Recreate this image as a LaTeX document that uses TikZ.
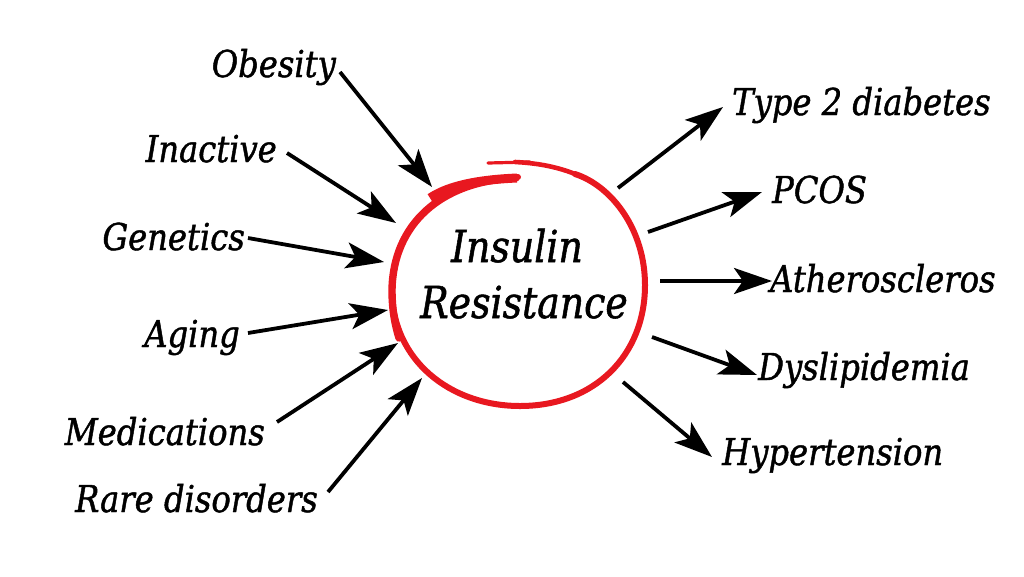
\documentclass[tikz,border=0pt]{standalone}
\usepackage{fontspec}
\usetikzlibrary{arrows.meta}
\newfontfamily\labfont{DejaVu Serif}[FakeStretch=0.87,FakeBold=1.2]
\newfontfamily\ctrfont{DejaVu Serif}[FakeStretch=0.86,FakeBold=1.2]
\definecolor{irred}{RGB}{232,24,32}
\tikzset{
  lab/.style={inner sep=0pt, font=\labfont\itshape\fontsize{37}{40}\selectfont},
  labL/.style={lab, anchor=base east},
  labR/.style={lab, anchor=base west},
  ctr/.style={inner sep=0pt, anchor=base, font=\ctrfont\itshape\fontsize{44}{50}\selectfont},
  arr/.style={line width=3.8pt, -{Stealth[length=38pt,width=26pt,inset=9pt]}},
  ring/.style={draw=irred, line cap=round, line join=round}
}
\begin{document}
\begin{tikzpicture}[x=1pt,y=-1pt]
\useasboundingbox (0,0) rectangle (1024,576);
\fill[white] (0,0) rectangle (1024,576);

% ring (hand-drawn spiral ellipse)
\draw[ring, line width=6pt] (518,177) .. controls (440,180) and (393,225) .. (392,290)
   .. controls (392,360) and (450,406) .. (520,406)
   .. controls (595,406) and (645,355) .. (645,285)
   .. controls (645,230) and (612,186) .. (575,174);
\draw[ring, line width=9pt, line cap=butt] (517,178) .. controls (470,180) and (445,188) .. (430,198);
\draw[ring, line width=7.4pt] (516,178) .. controls (440,181) and (393,225) .. (392,290)
   .. controls (392,310) and (395,325) .. (399,338);
\draw[ring, line width=4.6pt] (575,174) .. controls (555,166) and (535,163) .. (515,162);
\draw[ring, line width=3.2pt] (530,162) -- (488,163);

% centre text
\node[ctr] (ir1) at (517,262) {Insulin};
\node[ctr] (ir2) at (524,318) {Resistance};

% causes (left)
\node[labL] (ob) at (336,77)  {Obesity};
\node[labL] (in) at (277,162) {Inactive};
\node[labL] (ge) at (245,250) {Genetics};
\node[labL] (ag) at (240,347) {Aging};
\node[labL] (me) at (265,445) {Medications};
\node[labL] (ra) at (318,512) {Rare disorders};

% consequences (right)
\node[labR] (t2) at (732,115) {Type 2 diabetes};
\node[labR] (pc) at (772,203) {PCOS};
\node[labR] (at) at (770,292) {Atheroscleros};
\node[labR] (dy) at (758,380) {Dyslipidemia};
\node[labR] (hy) at (722,465) {Hypertension};

% arrow end points
\coordinate (obS) at (340,72);  \coordinate (obE) at (432,187);
\coordinate (inS) at (287,153); \coordinate (inE) at (396,223);
\coordinate (geS) at (248,238); \coordinate (geE) at (384,262);
\coordinate (agS) at (248,333); \coordinate (agE) at (388,310);
\coordinate (meS) at (277,422); \coordinate (meE) at (398,343);
\coordinate (raS) at (328,492); \coordinate (raE) at (422,378);
\coordinate (t2S) at (618,188); \coordinate (t2E) at (723,107);
\coordinate (pcS) at (648,232); \coordinate (pcE) at (762,192);
\coordinate (atS) at (660,281); \coordinate (atE) at (772,281);
\coordinate (dyS) at (652,337); \coordinate (dyE) at (757,375);
\coordinate (hyS) at (623,382); \coordinate (hyE) at (712,457);

\foreach \a in {ob,in,ge,ag,me,ra,t2,pc,at,dy,hy}
  \draw[arr] (\a S) -- (\a E);
\end{tikzpicture}
\end{document}
